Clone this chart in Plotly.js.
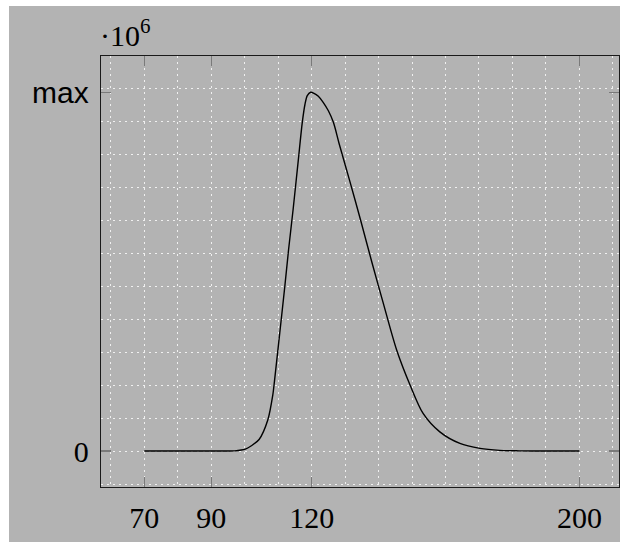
<!DOCTYPE html>
<html>
<head>
<meta charset="utf-8">
<script src="https://cdn.plot.ly/plotly-3.0.1.min.js"></script>
<style>
  html, body { margin: 0; padding: 0; background: #ffffff; width: 620px; height: 542px; overflow: hidden; }
  #chart { position: absolute; left: 9px; top: 6px; width: 611px; height: 536px; }
</style>
</head>
<body>
<div id="chart"></div>
<script>
// Curve samples (x, value in units of 10^6)
var xValues = [70, 75, 80, 85, 90, 94, 97, 99, 100.2, 102, 104.3, 106.9, 108.4, 108.9, 110.5, 112, 113.1, 114.5, 116, 117.2, 118, 118.7, 119.7, 120.7, 122, 123.5, 125, 126.5, 128.2, 131.4, 134.7, 138, 141.4, 145.4, 149.4, 153.3, 158.3, 164.3, 170.3, 176.2, 182, 190, 200];
var yValues = [0, 0, 0, 0, 0, 0, 0.0005, 0.003, 0.006, 0.016, 0.035, 0.094, 0.170, 0.212, 0.36, 0.50, 0.609, 0.735, 0.880, 0.995, 1.050, 1.077, 1.087, 1.084, 1.075, 1.056, 1.031, 0.996, 0.932, 0.818, 0.697, 0.572, 0.448, 0.306, 0.200, 0.114, 0.058, 0.023, 0.008, 0.002, 0.0005, 0, 0];
var xTickVals = [70, 90, 120, 200];
var xTickText = ['70', '90', '120', '200'];
var yTickText = ['0', '<span style="font-family:\'Liberation Sans\', Arial, sans-serif">max</span>'];
var yTickVals = [0, Math.max.apply(null, yValues)];
var scaleLabel = '·10<sup>6</sup>';

var xRange = [57.07, 211.83];
var yRange = [-0.109, 1.197];

var bg = '#b3b3b3';
var serif = 'Liberation Serif, Times New Roman, serif';
var gridStyle = { color: '#f0f0f0', dash: '2px,4px' };

var traces = [
  {
    x: xValues, y: yValues, type: 'scatter', mode: 'lines',
    line: { color: '#000000', width: 1.4, shape: 'spline', smoothing: 0.8 },
    xaxis: 'x', yaxis: 'y', hoverinfo: 'skip', showlegend: false
  },
  {
    x: [], y: [], type: 'scatter', mode: 'lines',
    xaxis: 'x2', yaxis: 'y2', hoverinfo: 'skip', showlegend: false
  }
];

var layout = {
  width: 611, height: 536,
  margin: { l: 92, r: 1, t: 50, b: 55, pad: 0 },
  paper_bgcolor: bg, plot_bgcolor: bg,
  showlegend: false,
  font: { family: serif, size: 30, color: '#000000' },
  xaxis: {
    range: xRange, autorange: false, fixedrange: true,
    tickmode: 'linear', tick0: 0, dtick: 10,
    showgrid: true, gridcolor: gridStyle.color, griddash: gridStyle.dash, gridwidth: 1,
    zeroline: false, showticklabels: false, ticks: '',
    showline: true, linecolor: '#1a1a1a', linewidth: 1.3, mirror: true
  },
  yaxis: {
    range: yRange, autorange: false, fixedrange: true,
    tickmode: 'linear', tick0: 0, dtick: 0.1,
    showgrid: true, gridcolor: gridStyle.color, griddash: gridStyle.dash, gridwidth: 1,
    zeroline: false, showticklabels: false, ticks: '',
    showline: true, linecolor: '#1a1a1a', linewidth: 1.3, mirror: true
  },
  xaxis2: {
    overlaying: 'x', anchor: 'y2', side: 'bottom',
    range: xRange, autorange: false, fixedrange: true,
    tickmode: 'array', tickvals: xTickVals, ticktext: xTickText,
    ticks: 'inside', ticklen: 10, tickwidth: 1.2, tickcolor: '#7a7a7a',
    ticklabelstandoff: 4,
    showgrid: false, zeroline: false,
    showline: true, linecolor: '#1a1a1a', linewidth: 1.3, mirror: 'ticks',
    tickfont: { family: serif, size: 30, color: '#000000' }
  },
  yaxis2: {
    overlaying: 'y', anchor: 'x2', side: 'left',
    range: yRange, autorange: false, fixedrange: true,
    tickmode: 'array', tickvals: yTickVals, ticktext: yTickText,
    ticks: 'inside', ticklen: 10, tickwidth: 1.2, tickcolor: '#7a7a7a',
    ticklabelstandoff: 5,
    showgrid: false, zeroline: false,
    showline: true, linecolor: '#1a1a1a', linewidth: 1.3, mirror: 'ticks',
    tickfont: { family: serif, size: 30, color: '#000000' }
  },
  annotations: [
    {
      text: scaleLabel, xref: 'paper', yref: 'paper', x: 0, y: 1,
      xanchor: 'left', yanchor: 'bottom', xshift: -3, yshift: 2, showarrow: false,
      font: { family: serif, size: 30, color: '#000000' }
    }
  ]
};

Plotly.newPlot('chart', traces, layout, { displayModeBar: false, staticPlot: true });
</script>
</body>
</html>
